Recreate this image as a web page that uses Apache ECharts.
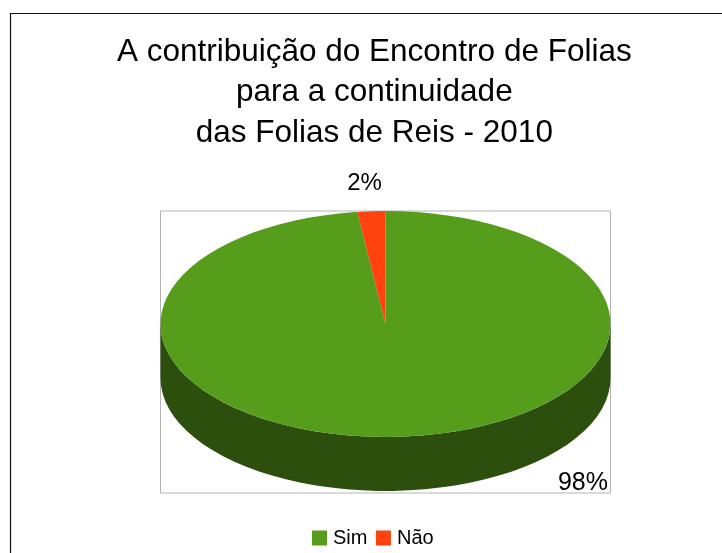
<!DOCTYPE html>
<html>
<head>
<meta charset="utf-8">
<style>html,body{margin:0;padding:0;background:#fff}#c{width:722px;height:553px}</style>
<script src="https://cdn.jsdelivr.net/npm/echarts@6/dist/echarts.min.js"></script>
</head>
<body>
<div id="c"></div>
<script>
var titleLines = ['A contribuição do Encontro de Folias', 'para a continuidade', 'das Folias de Reis - 2010'];
var categories = ['Sim', 'Não'];
var values = [98, 2];
var labels = ['98%', '2%'];
var colors = ['#579d1c', '#ff420e'];
var sideColors = ['#2c4f0e', '#80210a'];

var total = values.reduce(function (a, b) { return a + b; }, 0);
var DEPTH = 0.478;
var STEP = 4;
var chart = echarts.init(document.getElementById('c'), null, { renderer: 'canvas' });

function point(api, deg, drop) {
  var r = deg * Math.PI / 180;
  return api.coord([Math.sin(r), Math.cos(r) - (drop || 0)]);
}
function sliceRender(index, labelPos, labelAlign, labelSize) {
  var start = 0, i;
  for (i = 0; i < index; i++) start += values[i] / total * 360;
  return function (params, api) {
    var end = start + api.value(2) / total * 360;
    var children = [];
    var from = Math.max(start, 90), to = Math.min(end, 270), a, side = [], top = [];
    if (to > from) {
      for (a = from; a <= to; a += STEP) side.push(point(api, a, 0));
      for (a = to; a >= from; a -= STEP) side.push(point(api, a, DEPTH));
      children.push({ type: 'polygon', shape: { points: side }, style: { fill: sideColors[index] } });
    }
    top.push(api.coord([api.value(0), api.value(1)]));
    for (a = start; a < end; a += STEP) top.push(point(api, a, 0));
    top.push(point(api, end, 0));
    children.push({ type: 'polygon', shape: { points: top }, style: { fill: api.visual('color') } });
    children.push({
      type: 'text',
      style: {
        x: labelPos[0], y: labelPos[1], text: labels[index], fill: '#000',
        font: labelSize + 'px "Liberation Sans"', align: labelAlign, verticalAlign: 'middle'
      }
    });
    return { type: 'group', children: children };
  };
}
var labelPositions = [[608, 483], [364.5, 183.5]];
var labelSizes = [25, 24];
var series = categories.map(function (name, i) {
  return {
    type: 'custom',
    name: name,
    coordinateSystem: 'cartesian2d',
    clip: false,
    silent: true,
    z: i === 0 ? 2 : 3,
    itemStyle: { color: colors[i] },
    renderItem: sliceRender(i, labelPositions[i], i === 0 ? 'right' : 'center', labelSizes[i]),
    encode: { x: 0, y: 1 },
    data: [[0, 0, values[i]]]
  };
});

chart.setOption({
  animation: false,
  backgroundColor: '#fff',
  title: {
    text: titleLines.join('\n'),
    left: 369.3, top: 27, textAlign: 'center',
    textStyle: { fontFamily: 'Liberation Sans', fontSize: 31.5, fontWeight: 'normal', color: '#000', lineHeight: 40.5 }
  },
  legend: {
    data: categories,
    left: 312, top: 528, padding: 0,
    icon: 'rect', itemWidth: 15, itemHeight: 15, itemGap: 8.5,
    selectedMode: false,
    textStyle: { fontFamily: 'Liberation Sans', fontSize: 20, color: '#000', padding: [0, 0, 0, 1] }
  },
  grid: { left: 160.5, top: 211, width: 450, height: 282, show: true, borderColor: '#b3b3b3', borderWidth: 1, backgroundColor: 'transparent' },
  xAxis: { type: 'value', min: -1, max: 1, show: false },
  yAxis: { type: 'value', min: -1.496, max: 1, show: false },
  graphic: [
    { type: 'polyline', silent: true, shape: { points: [[10.5, 553], [10.5, 13.5], [722, 13.5]] }, style: { stroke: '#111', lineWidth: 1.2, fill: null } }
  ],
  series: series
});
</script>
</body>
</html>
